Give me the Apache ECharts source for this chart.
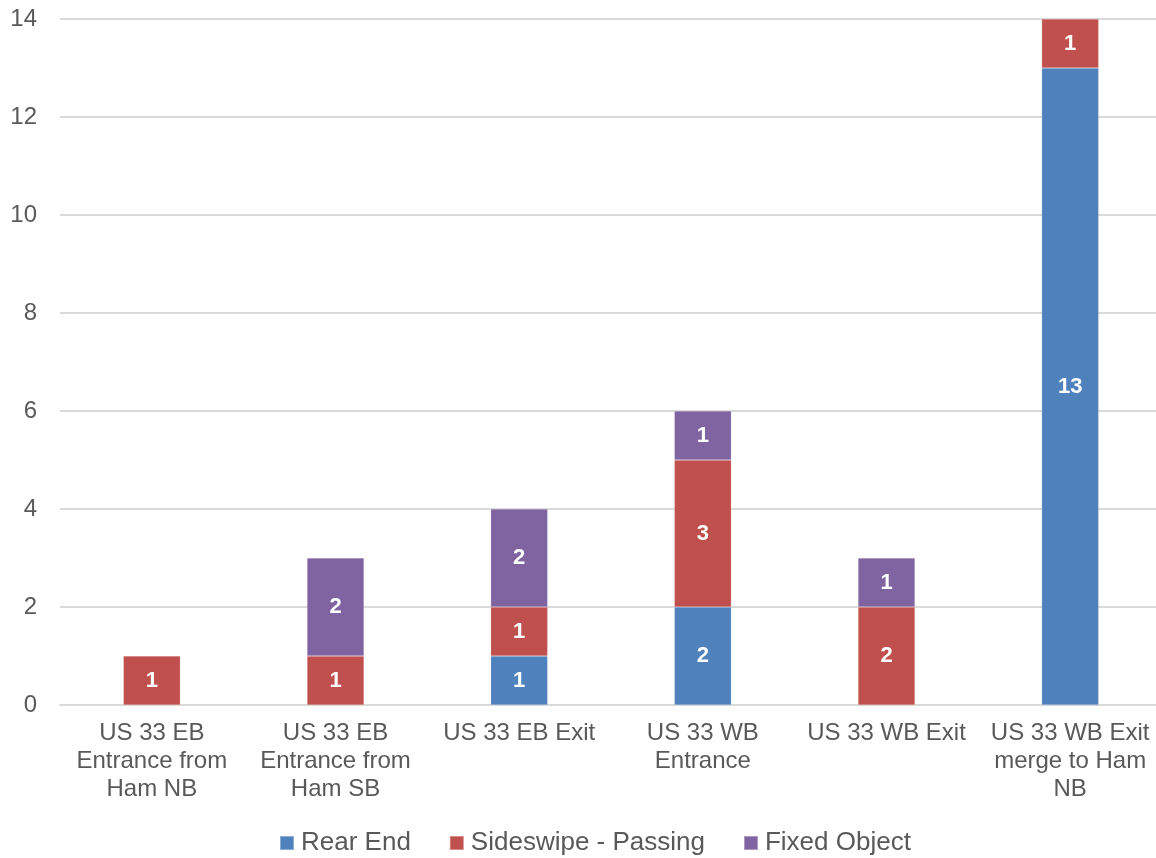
<!DOCTYPE html>
<html>
<head>
<meta charset="utf-8">
<script src="https://cdn.jsdelivr.net/npm/echarts@6/dist/echarts.min.js"></script>
<style>
  html, body { margin: 0; padding: 0; background: #ffffff; overflow: hidden; }
  #chart { width: 1162px; height: 858px; }
</style>
</head>
<body>
<div id="chart"></div>
<script>
// Crash counts by ramp location and collision type
const categories = [
  'US 33 EB\nEntrance from\nHam NB',
  'US 33 EB\nEntrance from\nHam SB',
  'US 33 EB Exit',
  'US 33 WB\nEntrance',
  'US 33 WB Exit',
  'US 33 WB Exit\nmerge to Ham\nNB'
];
const rearEnd = [null, null, 1, 2, null, 13];
const sideswipePassing = [1, 1, 1, 3, 2, 1];
const fixedObject = [null, 2, 2, 1, 1, null];
const yTicks = { min: 0, max: 14, interval: 2 };

const FONT = '"Liberation Sans", Arial, sans-serif';

function barSeries(name, data, color) {
  return {
    name: name,
    type: 'bar',
    stack: 'total',
    data: data,
    barWidth: 57,
    itemStyle: { color: color, borderColor: 'rgba(255,255,255,0.35)', borderWidth: 0.5 },
    label: {
      show: true,
      position: 'inside',
      color: '#ffffff',
      fontFamily: FONT,
      fontWeight: 'bold',
      fontSize: 22
    },
    emphasis: { disabled: true }
  };
}

const chart = echarts.init(document.getElementById('chart'), null, { renderer: 'canvas' });
chart.setOption({
  animation: false,
  backgroundColor: '#ffffff',
  grid: { left: 60, top: 19, right: 0, bottom: 153, containLabel: false },
  legend: {
    top: 825,
    left: 274,
    itemWidth: 14,
    itemHeight: 14,
    itemGap: 38,
    icon: 'rect',
    textStyle: { fontFamily: FONT, fontSize: 26, color: '#595959', padding: [0, 0, 0, 2] },
    data: ['Rear End', 'Sideswipe - Passing', 'Fixed Object']
  },
  xAxis: {
    type: 'category',
    data: categories,
    axisLine: { show: true, lineStyle: { color: '#d9d9d9', width: 2 } },
    axisTick: { show: false },
    axisLabel: {
      fontFamily: FONT,
      fontSize: 24,
      color: '#595959',
      lineHeight: 28,
      margin: 14,
      interval: 0
    }
  },
  yAxis: {
    type: 'value',
    min: yTicks.min,
    max: yTicks.max,
    interval: yTicks.interval,
    axisLine: { show: false },
    axisTick: { show: false },
    splitLine: { lineStyle: { color: '#d9d9d9', width: 2 } },
    axisLabel: {
      fontFamily: FONT,
      fontSize: 24,
      color: '#595959',
      margin: 23
    }
  },
  series: [
    barSeries('Rear End', rearEnd, '#4f81bd'),
    barSeries('Sideswipe - Passing', sideswipePassing, '#c0504d'),
    barSeries('Fixed Object', fixedObject, '#8064a2')
  ]
});
</script>
</body>
</html>
